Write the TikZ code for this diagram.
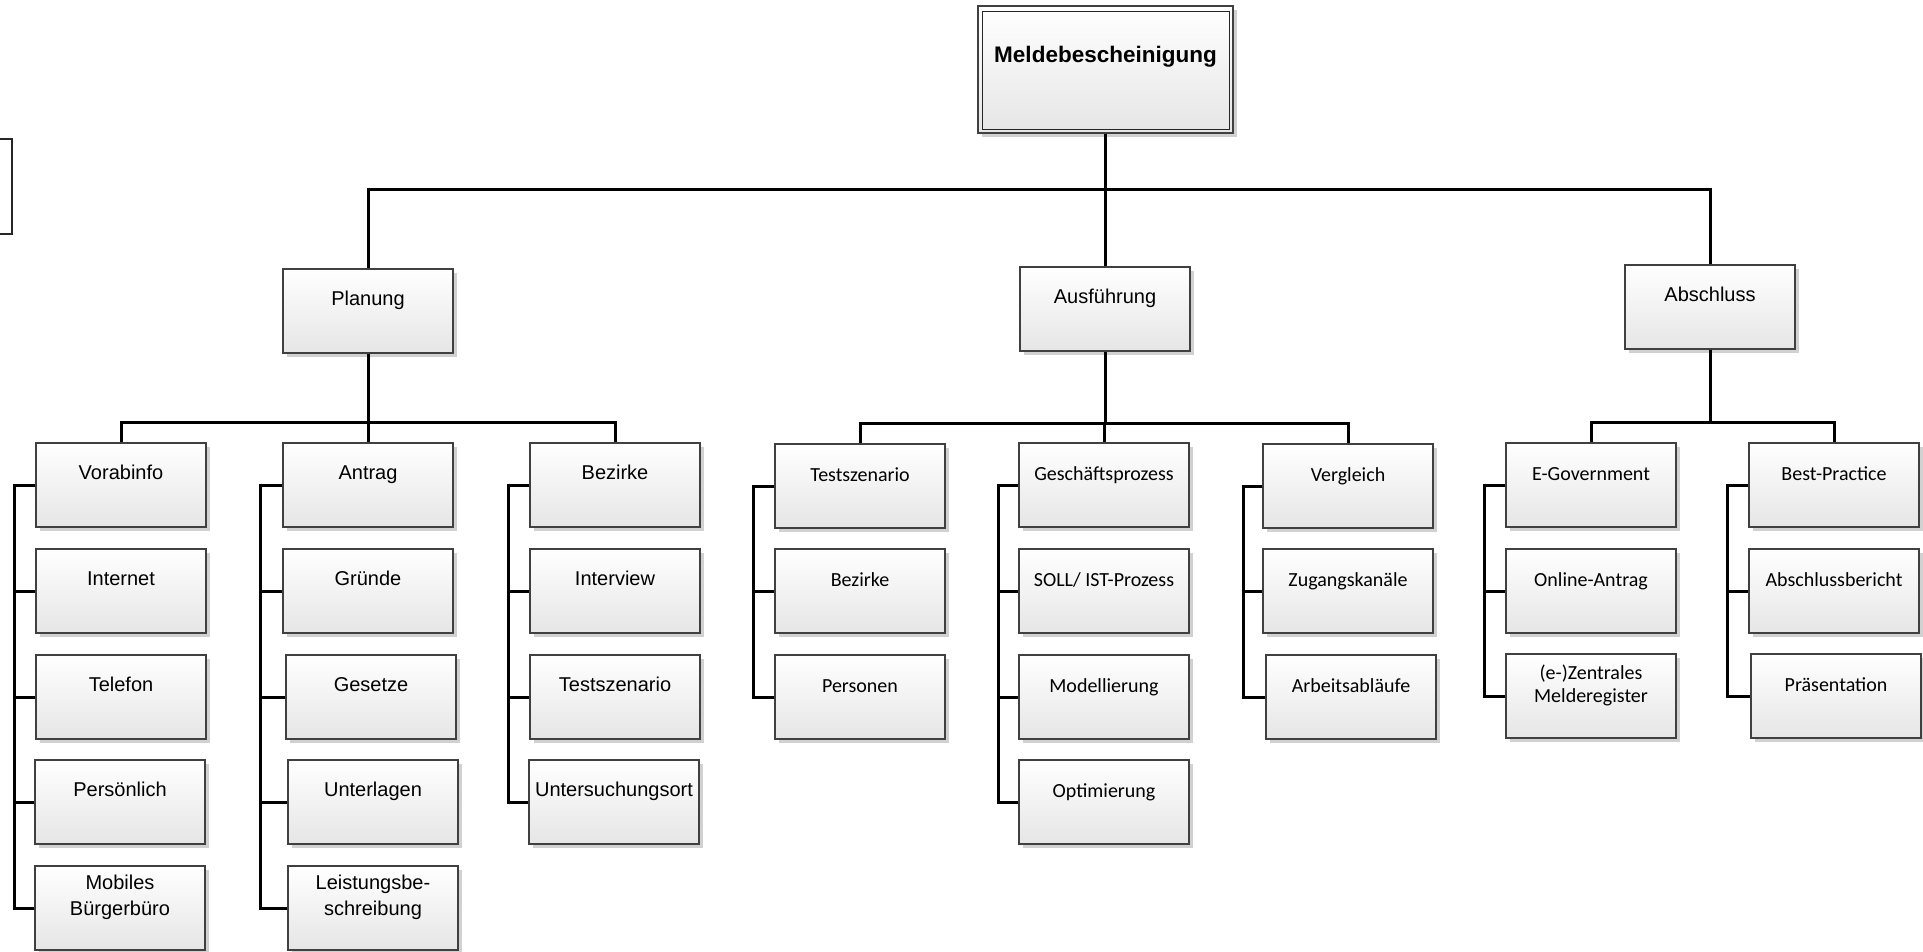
\documentclass[tikz,border=0pt]{standalone}
\usepackage{fontspec}
\setmainfont{Liberation Sans}
\newfontfamily\calfont{Carlito}
\usetikzlibrary{shadows}
\tikzset{
  box/.style={draw=black!75, line width=1.2pt, top color=white, bottom color=black!10,
    minimum width=170pt, minimum height=84pt, inner sep=0pt,
    general shadow={fill=black!18, shadow xshift=4pt, shadow yshift=-4pt}},
  % one-line captions sit on a fixed baseline, two-line captions are centred
  ar/.style={font=\fontsize{20}{24}\selectfont, inner sep=0pt, anchor=base, yshift=-37pt},
  cb/.style={font=\calfont\fontsize{20}{24}\selectfont, inner sep=0pt, anchor=base, yshift=-38.5pt},
  artwo/.style={font=\fontsize{20}{26}\selectfont, align=center, inner sep=0pt, yshift=-32pt},
  cbtwo/.style={font=\calfont\fontsize{20}{24}\selectfont, align=center, inner sep=0pt, yshift=-32pt},
  link/.style={line width=3pt, black},
}
% \bx{name}{left}{top}{caption style}{caption}
\newcommand\bx[5]{%
  \node[box] (#1) at (#2+85,#3+42) {};
  \node[#4] (#1-t) at (#1.north) {#5};}
\begin{document}
\begin{tikzpicture}[x=1pt, y=-1pt]
\useasboundingbox (0,0) rectangle (1923,952);
\clip (0,0) rectangle (1923,952);

% frame cut by the left edge
\draw[line width=2pt, black!85] (-20,139) rectangle (12,234);

% root
\node[box, minimum width=255pt, minimum height=127pt] (root) at (1105.5,69.5) {};
\draw[line width=1.2pt, black!85] ([shift={(5pt,-6pt)}]root.north west) rectangle ([shift={(-4pt,4pt)}]root.south east);
\node[font=\bfseries\fontsize{22.5}{26}\selectfont, inner sep=0pt, anchor=base] (root-t) at ([yshift=-57pt]root.north) {Meldebescheinigung};

% second level
\bx{planung}{283}{269}{ar}{Planung}
\bx{ausf}{1020}{267}{ar}{Ausführung}
\bx{abschl}{1625}{265}{ar}{Abschluss}

% Planung
\bx{vorab}{36}{443}{ar}{Vorabinfo}
\bx{internet}{36}{549}{ar}{Internet}
\bx{telefon}{36}{655}{ar}{Telefon}
\bx{persoen}{35}{760}{ar}{Persönlich}
\bx{mobil}{35}{866}{artwo}{Mobiles\\Bürgerbüro}
\bx{antrag}{283}{443}{ar}{Antrag}
\bx{gruende}{283}{549}{ar}{Gründe}
\bx{gesetze}{286}{655}{ar}{Gesetze}
\bx{unterl}{288}{760}{ar}{Unterlagen}
\bx{leist}{288}{866}{artwo}{Leistungsbe-\\schreibung}
\bx{bezirke}{530}{443}{ar}{Bezirke}
\bx{interview}{530}{549}{ar}{Interview}
\bx{testsz}{530}{655}{ar}{Testszenario}
\bx{unters}{529}{760}{ar}{Untersuchungsort}

% Ausfuehrung
\bx{atest}{775}{444}{cb}{Testszenario}
\bx{abez}{775}{549}{cb}{Bezirke}
\bx{apers}{775}{655}{cb}{Personen}
\bx{gesch}{1019}{443}{cb}{Geschäftsprozess}
\bx{soll}{1019}{549}{cb}{SOLL/ IST-Prozess}
\bx{modell}{1019}{655}{cb}{Modellierung}
\bx{optim}{1019}{760}{cb}{Optimierung}
\bx{vergl}{1263}{444}{cb}{Vergleich}
\bx{zugang}{1263}{549}{cb}{Zugangskanäle}
\bx{arbeit}{1266}{655}{cb}{Arbeitsabläufe}

% Abschluss
\bx{egov}{1506}{443}{cb}{E-Government}
\bx{online}{1506}{549}{cb}{Online-Antrag}
\bx{zentral}{1506}{654}{cbtwo}{(e-)Zentrales\\Melderegister}
\bx{best}{1749}{443}{cb}{Best-Practice}
\bx{bericht}{1749}{549}{cb}{Abschlussbericht}
\bx{praes}{1751}{654}{cb}{Präsentation}

% bus lines
\coordinate (bus0) at (0,190);
\coordinate (busP) at (0,422);
\coordinate (busA) at (0,423);
\coordinate (busE) at (0,422);

\foreach \c in {planung,ausf,abschl}
  \draw[link] (root.south) -- (root.south |- bus0) -| (\c.north);
\foreach \c in {vorab,antrag,bezirke}
  \draw[link] (planung.south) -- (planung.south |- busP) -| (\c.north);
\foreach \c in {atest,gesch,vergl}
  \draw[link] (ausf.south) -- (ausf.south |- busA) -| (\c.north);
\foreach \c in {egov,best}
  \draw[link] (abschl.south) -- (abschl.south |- busE) -| (\c.north);

% side brackets
\foreach \p/\c/\d in {vorab/internet/21, vorab/telefon/21, vorab/persoen/21, vorab/mobil/21,
  antrag/gruende/22, antrag/gesetze/22, antrag/unterl/22, antrag/leist/22,
  bezirke/interview/21, bezirke/testsz/21, bezirke/unters/21,
  atest/abez/21, atest/apers/21,
  gesch/soll/20, gesch/modell/20, gesch/optim/20,
  vergl/zugang/19, vergl/arbeit/19,
  egov/online/21, egov/zentral/21,
  best/bericht/21, best/praes/21}
  \draw[link] (\p.west) -- ++(-\d,0) |- (\c.west);
\end{tikzpicture}
\end{document}
